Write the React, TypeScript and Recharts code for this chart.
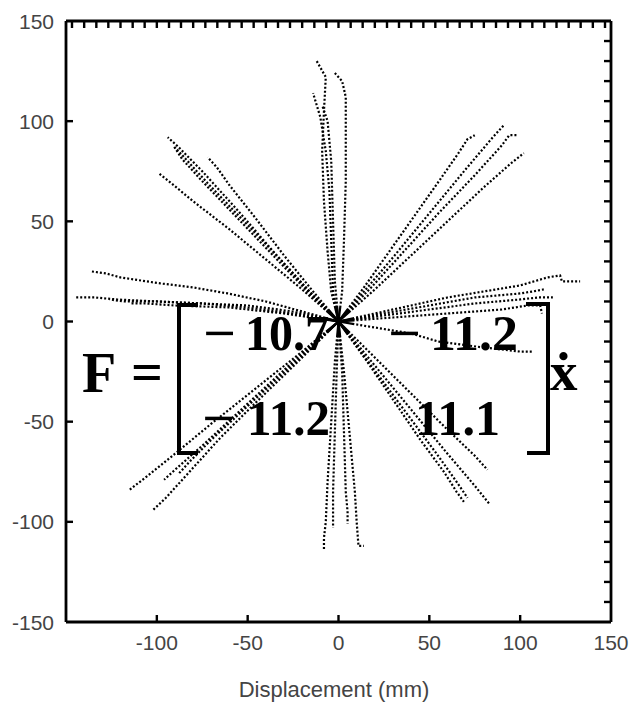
import React from 'react';
import { ScatterChart, Scatter, XAxis, YAxis } from 'recharts';

// Hand trajectories, grouped by reach direction: [displacement x, displacement y] in mm
const upTraces: number[][][] = [
  [[0, 0], [-4, 15], [-6, 35], [-8, 60], [-9, 85], [-8, 105], [-7, 122], [-12, 130]],
  [[0, 0], [2, 15], [3, 40], [4, 70], [4, 95], [4, 112], [2, 120], [-2, 124]],
  [[0, 0], [-3, 15], [-4, 40], [-5, 65], [-7, 85], [-10, 102], [-14, 114]],
  [[0, 0], [-2, 20], [-3, 50], [-4, 80], [-6, 100], [-9, 108]],
];

const upLeftTraces: number[][][] = [
  [[0, 0], [-15, 14], [-35, 34], [-55, 55], [-75, 75], [-88, 87], [-94, 92]],
  [[0, 0], [-16, 14], [-36, 33], [-56, 52], [-76, 71], [-86, 81], [-91, 88]],
  [[0, 0], [-14, 15], [-30, 33], [-46, 52], [-60, 68], [-67, 77], [-72, 82]],
  [[0, 0], [-20, 16], [-40, 31], [-60, 46], [-80, 60], [-92, 69], [-99, 74]],
  [[0, 0], [-14, 13], [-32, 31], [-52, 50], [-72, 69], [-84, 81], [-90, 87]],
];

const leftTraces: number[][][] = [
  [[0, 0], [-20, 5], [-40, 10], [-61, 14], [-80, 17], [-98, 19], [-120, 22], [-128, 24], [-136, 25]],
  [[0, 0], [-25, 5], [-50, 8], [-75, 9], [-100, 10], [-122, 11], [-134, 12], [-145, 12]],
  [[0, 0], [-25, 4], [-50, 7], [-75, 9], [-100, 10], [-118, 10], [-126, 11]],
  [[0, 0], [-30, 4], [-60, 7], [-90, 8], [-106, 9], [-114, 9]],
];

const downLeftTraces: number[][][] = [
  [[0, 0], [-20, -15], [-45, -33], [-70, -51], [-90, -66], [-105, -77], [-115, -84]],
  [[0, 0], [-20, -18], [-45, -40], [-65, -58], [-85, -78], [-95, -88], [-102, -94]],
  [[0, 0], [-20, -17], [-45, -38], [-70, -59], [-82, -70], [-88, -76]],
  [[0, 0], [-25, -20], [-50, -41], [-75, -62], [-90, -74], [-96, -79]],
];

const downTraces: number[][][] = [
  [[0, 0], [-2, -20], [-4, -50], [-6, -80], [-7, -100], [-8, -108], [-8, -114]],
  [[0, 0], [-1, -25], [-2, -55], [-3, -85], [-3, -96], [-3, -103]],
  [[0, 0], [2, -25], [3, -55], [4, -85], [5, -95], [5, -101]],
  [[0, 0], [3, -25], [6, -55], [9, -85], [10, -100], [11, -112], [14, -112]],
];

const downRightTraces: number[][][] = [
  [[0, 0], [15, -19], [30, -39], [45, -59], [58, -75], [65, -85], [69, -90]],
  [[0, 0], [20, -22], [40, -44], [60, -66], [75, -82], [83, -91]],
  [[0, 0], [20, -18], [40, -36], [60, -54], [75, -67], [82, -74]],
  [[0, 0], [18, -22], [36, -44], [54, -66], [65, -80], [71, -88]],
];

const rightTraces: number[][][] = [
  [[0, 0], [20, 4], [40, 8], [60, 12], [80, 15], [100, 18], [115, 22], [122, 23], [123, 20], [133, 20]],
  [[0, 0], [25, 3], [50, 6], [75, 9], [100, 11], [110, 12], [118, 12]],
  [[0, 0], [25, 4], [50, 8], [75, 12], [100, 14], [107, 15], [113, 16]],
  [[0, 0], [30, 2], [60, 4], [90, 6], [104, 8], [111, 8], [112, 4]],
  [[0, 0], [20, -3], [40, -6], [55, -10], [80, -13], [100, -15], [107, -15]],
];

const upRightTraces: number[][][] = [
  [[0, 0], [15, 16], [30, 32], [50, 54], [70, 76], [85, 92], [91, 98]],
  [[0, 0], [18, 17], [36, 35], [55, 54], [75, 73], [90, 88], [94, 93], [99, 93]],
  [[0, 0], [20, 16], [40, 33], [60, 50], [80, 67], [95, 79], [102, 84]],
  [[0, 0], [14, 17], [28, 35], [42, 53], [56, 71], [66, 84], [71, 91], [75, 93]],
];

// Axis ticks
const xTickLabels = [-100, -50, 0, 50, 100, 150];
const yTickLabels = [-150, -100, -50, 0, 50, 100, 150];
const rightMinorTicks = [-140, -130, -120, -110, -100, -90, -80, -70, -60, -50, -40, -30, -20, -10, 0, 10, 20, 30, 40, 50, 60, 70, 80, 90, 100, 110, 120, 130, 140];
const topMinorTicks = [
  -146.7, -140, -133.3, -126.7, -120, -113.3, -106.7, -100, -93.3, -86.7, -80, -73.3, -66.7, -60, -53.3,
  -46.7, -40, -33.3, -26.7, -20, -13.3, -6.7, 0, 6.7, 13.3, 20, 26.7, 33.3, 40, 46.7,
  53.3, 60, 66.7, 73.3, 80, 86.7, 93.3, 100, 106.7, 113.3, 120, 126.7, 133.3, 140, 146.7,
];

// Start point shared by every trajectory; also anchors the top and right frame axes
const origin = [{ x: 0, y: 0 }];

const allTraces = [
  ...upTraces,
  ...upLeftTraces,
  ...leftTraces,
  ...downLeftTraces,
  ...downTraces,
  ...downRightTraces,
  ...rightTraces,
  ...upRightTraces,
];

const toPoints = (t: number[][]) => t.map(([x, y]) => ({ x, y }));

// Solid stroke leaving the start point, then a dotted trace
const traceDash = '16 2 ' + '2 2 '.repeat(200);

const sansFont = "'Liberation Sans', Arial, Helvetica, sans-serif";
const serifFont = "'Liberation Serif', 'Times New Roman', serif";
const labelColor = '#444';

const noDot = () => <g />;

const BottomTick = (props: any) => {
  const { x, y, payload } = props;
  const v = payload.value;
  return (
    <g>
      {v !== 150 && <line x1={x} x2={x} y1={y} y2={y - 7} stroke="#000" strokeWidth={2.4} />}
      <text x={x} y={y + 28} textAnchor="middle" fontFamily={sansFont} fontSize={21} fill={labelColor}>
        {String(v)}
      </text>
    </g>
  );
};

const LeftTick = (props: any) => {
  const { x, y, payload } = props;
  const v = payload.value;
  return (
    <g>
      {Math.abs(v) !== 150 && <line x1={x} x2={x + 7} y1={y} y2={y} stroke="#000" strokeWidth={2.4} />}
      <text x={x - 12} y={y + 7.5} textAnchor="end" fontFamily={sansFont} fontSize={21} fill={labelColor}>
        {String(v)}
      </text>
    </g>
  );
};

const TopTick = (props: any) => {
  const { x, y } = props;
  return <line x1={x} x2={x} y1={y} y2={y + 7} stroke="#000" strokeWidth={2.4} />;
};

const RightTick = (props: any) => {
  const { x, y } = props;
  return <line x1={x} x2={x - 7} y1={y} y2={y} stroke="#000" strokeWidth={2.4} />;
};

export default function App() {
  return (
    <div style={{ position: 'absolute', left: 0, top: 0, width: 629, height: 704, background: '#fff' }}>
      {/* Force-law annotation and axis title, placed beneath the chart layer */}
      <svg width={629} height={704} style={{ position: 'absolute', left: 0, top: 0 }}>
        <text x={334} y={697} textAnchor="middle" fontFamily={sansFont} fontSize={22} fill={labelColor}>
          Displacement (mm)
        </text>
        <g fontFamily={serifFont} fontWeight="bold" fill="#000">
          <text x={82} y={392} fontSize={56}>F</text>
          <text x={131} y={391} fontSize={56}>=</text>
          <text x={203} y={350} fontSize={50} textLength={33} lengthAdjust="spacingAndGlyphs">−</text>
          <text x={245} y={350} fontSize={50} textLength={84} lengthAdjust="spacingAndGlyphs">10.7</text>
          <text x={388} y={350} fontSize={50} textLength={33} lengthAdjust="spacingAndGlyphs">−</text>
          <text x={430} y={350} fontSize={50} textLength={88} lengthAdjust="spacingAndGlyphs">11.2</text>
          <text x={202} y={435} fontSize={50} textLength={33} lengthAdjust="spacingAndGlyphs">−</text>
          <text x={247} y={435} fontSize={50} textLength={83} lengthAdjust="spacingAndGlyphs">11.2</text>
          <text x={415} y={435} fontSize={50} textLength={85} lengthAdjust="spacingAndGlyphs">11.1</text>
          <text x={550} y={390} fontSize={55}>ẋ</text>
        </g>
        <path d="M198 305 H179 V453 H198" stroke="#000" strokeWidth={4} fill="none" />
        <path d="M526 304 H548 V453 H527" stroke="#000" strokeWidth={4} fill="none" />
      </svg>
      <div style={{ position: 'absolute', left: 0, top: 0 }}>
        <ScatterChart width={629} height={704} margin={{ top: 20, right: 0, bottom: 22, left: 6 }}>
          <XAxis
            xAxisId="b"
            type="number"
            dataKey="x"
            orientation="bottom"
            domain={[-150, 150]}
            ticks={xTickLabels}
            height={60}
            axisLine={{ stroke: '#000', strokeWidth: 2.8 }}
            tickLine={false}
            tickSize={0}
            tickMargin={0}
            tick={<BottomTick />}
            interval={0}
          />
          <XAxis
            xAxisId="t"
            type="number"
            dataKey="x"
            orientation="top"
            domain={[-150, 150]}
            ticks={topMinorTicks}
            height={1}
            axisLine={{ stroke: '#000', strokeWidth: 2.8 }}
            tickLine={false}
            tickSize={0}
            tickMargin={0}
            tick={<TopTick />}
            interval={0}
          />
          <YAxis
            yAxisId="l"
            type="number"
            dataKey="y"
            orientation="left"
            domain={[-150, 150]}
            ticks={yTickLabels}
            width={60}
            axisLine={{ stroke: '#000', strokeWidth: 2.8 }}
            tickLine={false}
            tickSize={0}
            tickMargin={0}
            tick={<LeftTick />}
            interval={0}
          />
          <YAxis
            yAxisId="r"
            type="number"
            dataKey="y"
            orientation="right"
            domain={[-150, 150]}
            ticks={rightMinorTicks}
            width={18}
            axisLine={{ stroke: '#000', strokeWidth: 2.8 }}
            tickLine={false}
            tickSize={0}
            tickMargin={0}
            tick={<RightTick />}
            interval={0}
          />
          <Scatter data={origin} xAxisId="t" yAxisId="r" fill="#000" shape={noDot} isAnimationActive={false} />
          {allTraces.map((t, i) => (
            <Scatter
              key={`trace-${i}`}
              data={toPoints(t)}
              xAxisId="b"
              yAxisId="l"
              fill="#000"
              shape={noDot}
              lineType="joint"
              line={{ stroke: '#000', strokeWidth: 2.2, strokeDasharray: traceDash }}
              isAnimationActive={false}
            />
          ))}
        </ScatterChart>
      </div>
    </div>
  );
}
